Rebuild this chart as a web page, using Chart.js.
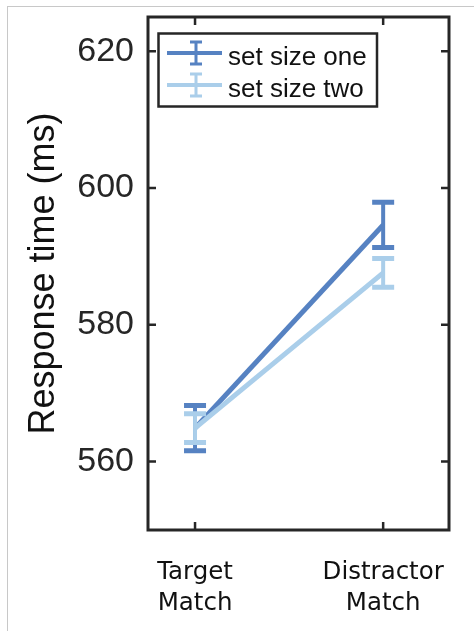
<!DOCTYPE html>
<html>
<head>
<meta charset="utf-8">
<script src="https://cdn.jsdelivr.net/npm/chart.js@4.4.1/dist/chart.umd.min.js"></script>
<style>
  html, body { margin: 0; padding: 0; background: #fff; }
  #wrap { position: relative; width: 474px; height: 631px; }
  #frame {
    position: absolute; left: 7px; top: 6px; right: 0; bottom: 0;
    border-left: 1px solid #c8c8c8; border-top: 1px solid #c8c8c8;
    pointer-events: none;
  }
  canvas { display: block; }
</style>
</head>
<body>
<div id="wrap">
  <canvas id="c" width="474" height="631"></canvas>
  <div id="frame"></div>
</div>
<script>
// data
const categories   = [['Target', 'Match'], ['Distractor', 'Match']];
const xPositions   = [1, 2];
const seriesNames  = ['set size one', 'set size two'];
const setOneMeans  = [564.9, 594.6];
const setOneErrors = [3.3, 3.3];
const setTwoMeans  = [564.9, 587.6];
const setTwoErrors = [2.1, 2.1];
const yTickValues  = [560, 580, 600, 620];

const DARK  = 'rgb(86,130,194)';
const LIGHT = 'rgb(170,206,234)';
const AXIS  = '#262626';

const toPoints = (means) => xPositions.map((x, i) => ({ x, y: means[i] }));

// MATLAB-ish box, inward ticks, error bars and legend
const matlabBox = {
  id: 'matlabBox',
  afterDatasetDraw(chart, args) {
    const ds = chart.data.datasets[args.index];
    const { x, y } = chart.scales;
    const c = chart.ctx;
    c.save();
    c.strokeStyle = ds.borderColor;
    c.lineCap = 'butt';
    ds.data.forEach((p, i) => {
      const px  = x.getPixelForValue(p.x);
      const top = y.getPixelForValue(p.y + ds.errors[i]);
      const bot = y.getPixelForValue(p.y - ds.errors[i]);
      c.lineWidth = 4;
      c.beginPath(); c.moveTo(px, top); c.lineTo(px, bot); c.stroke();
      c.lineWidth = 5;
      c.beginPath();
      c.moveTo(px - 11, top); c.lineTo(px + 11, top);
      c.moveTo(px - 11, bot); c.lineTo(px + 11, bot);
      c.stroke();
    });
    c.restore();
  },
  afterDraw(chart) {
    const c = chart.ctx;
    const { left, right, top, bottom } = chart.chartArea;
    const { x, y } = chart.scales;
    c.save();
    c.strokeStyle = AXIS;
    c.lineWidth = 2.5;
    yTickValues.forEach(v => {
      const py = y.getPixelForValue(v);
      c.beginPath();
      c.moveTo(left, py); c.lineTo(left + 8, py);
      c.moveTo(right, py); c.lineTo(right - 8, py);
      c.stroke();
    });
    xPositions.forEach(v => {
      const px = x.getPixelForValue(v);
      c.beginPath();
      c.moveTo(px, bottom); c.lineTo(px, bottom - 8);
      c.moveTo(px, top); c.lineTo(px, top + 8);
      c.stroke();
    });
    c.lineWidth = 3;
    c.strokeRect(left, top, right - left, bottom - top);

    // legend box
    const lx = 158.5, ly = 33.5, lw = 218.5, lh = 73;
    c.fillStyle = '#fff';
    c.fillRect(lx, ly, lw, lh);
    c.lineWidth = 2.5;
    c.strokeRect(lx, ly, lw, lh);
    const rows = [53, 85];
    chart.data.datasets.forEach((ds, i) => {
      const ry = rows[i];
      c.strokeStyle = ds.borderColor;
      c.lineWidth = 4;
      c.beginPath(); c.moveTo(167, ry); c.lineTo(222, ry); c.stroke();
      c.lineWidth = 3;
      c.beginPath();
      c.moveTo(196, ry - 11); c.lineTo(196, ry + 11);
      c.moveTo(190, ry - 11); c.lineTo(202, ry - 11);
      c.moveTo(190, ry + 11); c.lineTo(202, ry + 11);
      c.stroke();
      c.fillStyle = '#111';
      c.font = '26px "Liberation Sans", Arial, sans-serif';
      c.textBaseline = 'alphabetic';
      c.textAlign = 'left';
      c.fillText(seriesNames[i], 228, ry + 11.5);
    });
    c.restore();
  }
};

new Chart(document.getElementById('c').getContext('2d'), {
  type: 'line',
  data: {
    datasets: [
      {
        label: seriesNames[0], data: toPoints(setOneMeans), errors: setOneErrors,
        borderColor: DARK, borderWidth: 5, pointRadius: 0, order: 1,
      },
      {
        label: seriesNames[1], data: toPoints(setTwoMeans), errors: setTwoErrors,
        borderColor: LIGHT, borderWidth: 5, pointRadius: 0, order: 0,
      },
    ],
  },
  options: {
    responsive: false,
    animation: false,
    layout: { padding: { top: 17, right: 25, left: 0, bottom: 0 } },
    plugins: { legend: { display: false }, tooltip: { enabled: false } },
    scales: {
      x: {
        type: 'linear', min: 0.75, max: 2.35,
        afterBuildTicks: s => { s.ticks = xPositions.map(v => ({ value: v })); },
        afterFit: s => { s.height = 101; s.paddingLeft = 0; s.paddingRight = 0; },
        grid: { display: false, drawTicks: false },
        border: { display: false },
        ticks: {
          callback: v => categories[xPositions.indexOf(v)],
          font: { family: 'DejaVu Sans', size: 24.5, lineHeight: 1.27 },
          color: '#111', padding: 27, maxRotation: 0, autoSkip: false,
        },
      },
      y: {
        min: 550, max: 625,
        afterBuildTicks: s => { s.ticks = yTickValues.map(v => ({ value: v })); },
        afterFit: s => { s.width = 148; s.paddingTop = 0; s.paddingBottom = 0; },
        grid: { display: false, drawTicks: false },
        border: { display: false },
        ticks: {
          font: { family: 'Liberation Sans', size: 34 },
          color: AXIS, padding: 14,
        },
        title: {
          display: true, text: 'Response time (ms)',
          font: { family: 'Liberation Sans', size: 36 },
          color: '#111', padding: { top: 22, bottom: 0 },
        },
      },
    },
  },
  plugins: [matlabBox],
});
</script>
</body>
</html>
